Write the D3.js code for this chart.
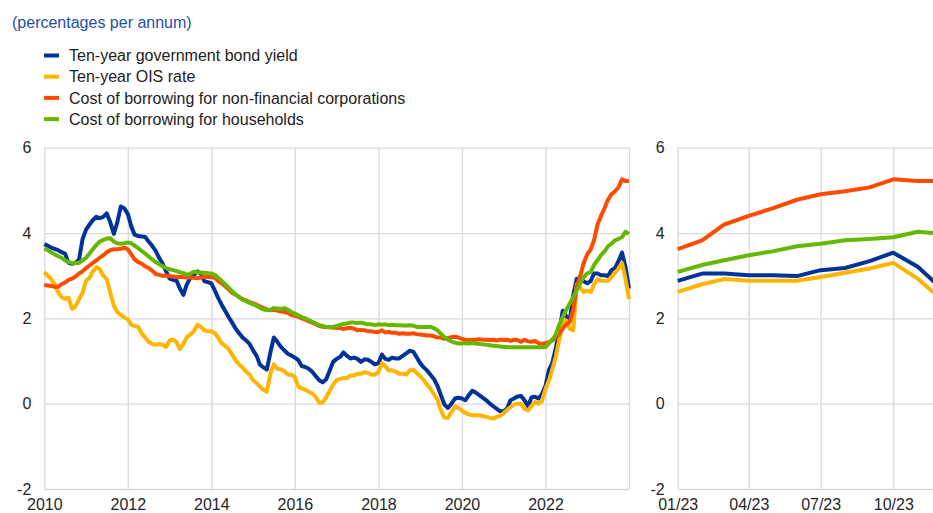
<!DOCTYPE html>
<html>
<head>
<meta charset="utf-8">
<script src="https://cdn.jsdelivr.net/npm/d3@7"></script>
<style>
  body { margin: 0; background: #fff; }
  svg { display: block; font-family: "Liberation Sans", Arial, sans-serif; }
</style>
</head>
<body>
<div id="chart"></div>
<script>
// Bond yields, OIS and bank lending rates, euro area, monthly Dec 2009 - Dec 2023

var svgWidth = 933;
var svgHeight = 513;

// months of the series (first value is Dec 2009)
var months = d3.timeMonth.range(new Date(2009, 11, 1), new Date(2024, 0, 1));

var bondYield = [3.74,
  3.70, 3.66, 3.63, 3.60, 3.55, 3.52, 3.30, 3.28, 3.30, 3.38, 3.85, 4.08,
  4.20, 4.30, 4.38, 4.35, 4.38, 4.46, 4.25, 3.98, 4.25, 4.62, 4.58, 4.45,
  4.15, 3.96, 3.93, 3.92, 3.91, 3.80, 3.70, 3.58, 3.42, 3.28, 3.10, 2.93,
  2.90, 2.89, 2.70, 2.55, 2.80, 2.95, 3.02, 3.10, 3.05, 2.87, 2.85, 2.82,
  2.65, 2.48, 2.32, 2.18, 2.03, 1.90, 1.76, 1.65, 1.55, 1.48, 1.40, 1.25,
  1.12, 0.92, 0.85, 0.80, 1.20, 1.55, 1.45, 1.33, 1.25, 1.17, 1.13, 1.08,
  1.02, 0.88, 0.86, 0.82, 0.75, 0.65, 0.55, 0.50, 0.57, 0.78, 0.98, 1.05,
  1.10, 1.20, 1.12, 1.06, 1.08, 1.05, 0.98, 1.04, 1.03, 0.98, 0.92, 0.95,
  1.15, 1.05, 1.03, 1.08, 1.06, 1.06, 1.12, 1.18, 1.24, 1.22, 1.09, 0.95,
  0.85, 0.78, 0.68, 0.58, 0.42, 0.20, -0.02, -0.10, 0.00, 0.12, 0.14, 0.12,
  0.08, 0.20, 0.30, 0.26, 0.20, 0.14, 0.08, 0.00, -0.06, -0.12, -0.18, -0.18,
  -0.10, 0.08, 0.12, 0.17, 0.18, 0.08, -0.06, 0.15, 0.16, 0.12, 0.22, 0.42,
  0.80, 0.95, 1.30, 1.70, 2.18, 2.05, 1.95, 2.55, 2.93, 2.92, 2.87, 2.82,
  2.88, 3.05, 3.05, 3.01, 3.01, 2.99, 3.13, 3.18, 3.34, 3.54, 3.21, 2.70];

var oisRate = [3.08,
  3.00, 2.92, 2.80, 2.62, 2.50, 2.46, 2.48, 2.22, 2.28, 2.45, 2.60, 2.88,
  2.95, 3.10, 3.20, 3.15, 3.00, 2.92, 2.60, 2.30, 2.15, 2.08, 2.02, 1.98,
  1.85, 1.82, 1.80, 1.65, 1.55, 1.45, 1.40, 1.38, 1.40, 1.38, 1.33, 1.48,
  1.50, 1.45, 1.28, 1.40, 1.56, 1.62, 1.70, 1.85, 1.80, 1.72, 1.70, 1.70,
  1.65, 1.55, 1.42, 1.35, 1.28, 1.15, 1.02, 0.92, 0.85, 0.75, 0.68, 0.55,
  0.48, 0.40, 0.33, 0.28, 0.70, 0.92, 0.82, 0.80, 0.76, 0.68, 0.68, 0.62,
  0.40, 0.36, 0.33, 0.28, 0.24, 0.16, 0.02, 0.03, 0.15, 0.30, 0.45, 0.55,
  0.58, 0.60, 0.60, 0.66, 0.66, 0.70, 0.70, 0.74, 0.72, 0.68, 0.68, 0.74,
  0.95, 0.88, 0.78, 0.78, 0.75, 0.70, 0.70, 0.68, 0.78, 0.80, 0.72, 0.65,
  0.55, 0.45, 0.35, 0.22, 0.10, -0.15, -0.33, -0.33, -0.20, -0.06, -0.10, -0.16,
  -0.22, -0.25, -0.27, -0.27, -0.27, -0.29, -0.31, -0.33, -0.35, -0.31, -0.28, -0.22,
  -0.14, -0.08, -0.02, 0.00, 0.00, -0.12, -0.16, -0.05, 0.04, 0.00, 0.06, 0.35,
  0.55, 0.80, 1.10, 1.50, 1.85, 1.95, 1.76, 1.72, 2.80, 2.72, 2.62, 2.65,
  2.62, 2.80, 2.92, 2.88, 2.88, 2.88, 2.97, 3.07, 3.17, 3.30, 2.93, 2.45];

var nfcCost = [2.78,
  2.77, 2.76, 2.74, 2.74, 2.80, 2.84, 2.90, 2.93, 2.98, 3.05, 3.10, 3.18,
  3.24, 3.30, 3.36, 3.42, 3.48, 3.55, 3.60, 3.62, 3.62, 3.63, 3.66, 3.62,
  3.50, 3.38, 3.32, 3.28, 3.22, 3.18, 3.12, 3.04, 3.02, 3.00, 3.00, 2.99,
  2.98, 2.97, 2.97, 2.97, 2.96, 2.96, 2.95, 2.94, 2.96, 2.97, 2.97, 2.97,
  2.95, 2.88, 2.82, 2.75, 2.68, 2.60, 2.55, 2.50, 2.45, 2.42, 2.38, 2.35,
  2.32, 2.28, 2.24, 2.21, 2.19, 2.20, 2.18, 2.16, 2.15, 2.13, 2.08, 2.06,
  2.04, 2.00, 1.97, 1.93, 1.90, 1.86, 1.82, 1.80, 1.79, 1.79, 1.78, 1.78,
  1.77, 1.75, 1.77, 1.78, 1.76, 1.72, 1.73, 1.72, 1.70, 1.70, 1.68, 1.68,
  1.72, 1.67, 1.68, 1.66, 1.66, 1.64, 1.65, 1.64, 1.64, 1.65, 1.63, 1.62,
  1.61, 1.60, 1.60, 1.58, 1.55, 1.55, 1.52, 1.54, 1.56, 1.57, 1.55, 1.52,
  1.50, 1.49, 1.50, 1.50, 1.51, 1.50, 1.50, 1.49, 1.50, 1.48, 1.50, 1.49,
  1.50, 1.47, 1.50, 1.49, 1.45, 1.50, 1.46, 1.45, 1.47, 1.42, 1.40, 1.42,
  1.44, 1.48, 1.54, 1.64, 1.76, 1.86, 1.92, 2.20, 2.75, 3.00, 3.30, 3.50,
  3.62, 3.83, 4.20, 4.40, 4.58, 4.78, 4.91, 4.98, 5.07, 5.26, 5.22, 5.22];

var hhCost = [3.64,
  3.60, 3.55, 3.50, 3.46, 3.42, 3.36, 3.32, 3.30, 3.30, 3.30, 3.36, 3.42,
  3.52, 3.62, 3.72, 3.80, 3.84, 3.87, 3.88, 3.80, 3.76, 3.75, 3.76, 3.78,
  3.76, 3.70, 3.65, 3.58, 3.52, 3.45, 3.38, 3.32, 3.27, 3.22, 3.18, 3.15,
  3.13, 3.11, 3.08, 3.06, 3.02, 3.05, 3.09, 3.08, 3.07, 3.07, 3.06, 3.05,
  3.02, 2.95, 2.88, 2.80, 2.72, 2.64, 2.56, 2.50, 2.44, 2.40, 2.36, 2.33,
  2.29, 2.25, 2.21, 2.19, 2.20, 2.24, 2.23, 2.22, 2.24, 2.20, 2.15, 2.11,
  2.07, 2.03, 2.00, 1.96, 1.92, 1.88, 1.84, 1.82, 1.80, 1.80, 1.80, 1.82,
  1.85, 1.87, 1.88, 1.90, 1.90, 1.89, 1.90, 1.88, 1.86, 1.86, 1.84, 1.86,
  1.85, 1.86, 1.84, 1.85, 1.84, 1.84, 1.83, 1.83, 1.84, 1.83, 1.80, 1.80,
  1.80, 1.80, 1.80, 1.77, 1.72, 1.64, 1.56, 1.50, 1.46, 1.43, 1.41, 1.41,
  1.42, 1.41, 1.42, 1.41, 1.40, 1.39, 1.38, 1.37, 1.36, 1.35, 1.34, 1.33,
  1.33, 1.32, 1.32, 1.32, 1.32, 1.32, 1.32, 1.32, 1.32, 1.32, 1.32, 1.33,
  1.42, 1.50, 1.62, 1.85, 2.03, 2.20, 2.35, 2.50, 2.66, 2.82, 2.97, 3.05,
  3.09, 3.25, 3.36, 3.48, 3.57, 3.69, 3.75, 3.83, 3.86, 3.90, 4.03, 3.98];

var seriesNames = ["Ten-year government bond yield", "Ten-year OIS rate",
  "Cost of borrowing for non-financial corporations", "Cost of borrowing for households"];
var seriesValues = [bondYield, oisRate, nfcCost, hhCost];
var seriesColors = ["#003299", "#ffb400", "#ff4b00", "#65b800"];

var yTicks = [-2, 0, 2, 4, 6];
var yearTicks = [2010, 2012, 2014, 2016, 2018, 2020, 2022, 2024];
var zoomTicks = ["01/23", "04/23", "07/23", "10/23"];

var parseMonth = d3.timeParse("%m/%y");
var fmtMonth = d3.timeFormat("%m/%y");

var svg = d3.select("#chart")
  .append("svg")
  .attr("width", svgWidth)
  .attr("height", svgHeight);

// title
// ==============================
svg.append("text")
  .attr("x", 12)
  .attr("y", 28)
  .attr("fill", "#1f4fa5")
  .style("font-size", "16px")
  .text("(percentages per annum)");

// legend
// ==============================
var legend = svg.append("g").selectAll("g")
  .data(seriesNames)
  .enter()
  .append("g")
  .attr("transform", (d, i) => `translate(44, ${55.5 + i * 21.2})`);

legend.append("rect")
  .attr("x", 0)
  .attr("y", -2)
  .attr("width", 15)
  .attr("height", 4)
  .attr("fill", (d, i) => seriesColors[i]);

legend.append("text")
  .attr("x", 25)
  .attr("dy", "0.35em")
  .attr("fill", "#222")
  .style("font-size", "16px")
  .text(d => d);

// scales
// ==============================
var yScale = d3.scaleLinear().domain([-2, 6]).range([489, 147.7]);

var xLeft = d3.scaleTime()
  .domain([new Date(2010, 0, 1), new Date(2024, 0, 1)])
  .range([44.3, 629]);

var xRight = d3.scaleTime()
  .domain([parseMonth("01/23"), parseMonth("10/23")])
  .range([677.7, 893.3]);

function styleAxis(g) {
  g.select(".domain").remove();
  g.selectAll(".tick line").attr("stroke", "#d9d9d9").attr("stroke-width", 1.3);
  g.selectAll(".tick text")
    .attr("fill", "#262626")
    .style("font-size", "16px")
    .style("font-family", "'Liberation Sans', Arial, sans-serif");
}

// plain hyphen for negatives, as in the original
var yFormat = d => String(d);

// left panel
// ==============================
var left = svg.append("g");

left.append("g")
  .attr("transform", "translate(44.3, 0)")
  .call(d3.axisLeft(yScale).tickValues(yTicks).tickFormat(yFormat)
    .tickSize(-(629 - 44.3)).tickPadding(13))
  .call(styleAxis);

left.append("g")
  .attr("transform", "translate(0, 489)")
  .call(d3.axisBottom(xLeft)
    .tickValues(yearTicks.map(y => new Date(y, 0, 1)))
    .tickSize(-(489 - 147.7))
    .tickPadding(10)
    .tickFormat(d => d.getFullYear() < 2024 ? d.getFullYear() : ""))
  .call(styleAxis);

var lineLeft = d3.line()
  .x((d, i) => xLeft(d3.timeMonth.offset(months[i], 1)))
  .y(d => yScale(d));

left.selectAll("path.series")
  .data(seriesValues)
  .enter()
  .append("path")
  .attr("class", "series")
  .attr("d", lineLeft)
  .attr("fill", "none")
  .attr("stroke", (d, i) => seriesColors[i])
  .attr("stroke-width", 4)
  .attr("stroke-linejoin", "round");

// right panel: 2023 only
// ==============================
var right = svg.append("g");
var start2023 = months.findIndex(m => m.getFullYear() === 2023);
var months2023 = months.slice(start2023);

right.append("g")
  .attr("transform", "translate(677.7, 0)")
  .call(d3.axisLeft(yScale).tickValues(yTicks).tickFormat(yFormat)
    .tickSize(-(svgWidth - 677.7)).tickPadding(13))
  .call(styleAxis);

right.append("g")
  .attr("transform", "translate(0, 489)")
  .call(d3.axisBottom(xRight)
    .tickValues(zoomTicks.map(parseMonth))
    .tickSize(-(489 - 147.7))
    .tickPadding(10)
    .tickFormat(fmtMonth))
  .call(styleAxis);

var lineRight = d3.line()
  .x((d, i) => xRight(months2023[i]))
  .y(d => yScale(d));

right.selectAll("path.series")
  .data(seriesValues.map(s => s.slice(start2023)))
  .enter()
  .append("path")
  .attr("class", "series")
  .attr("d", lineRight)
  .attr("fill", "none")
  .attr("stroke", (d, i) => seriesColors[i])
  .attr("stroke-width", 4)
  .attr("stroke-linejoin", "round");
</script>
</body>
</html>
